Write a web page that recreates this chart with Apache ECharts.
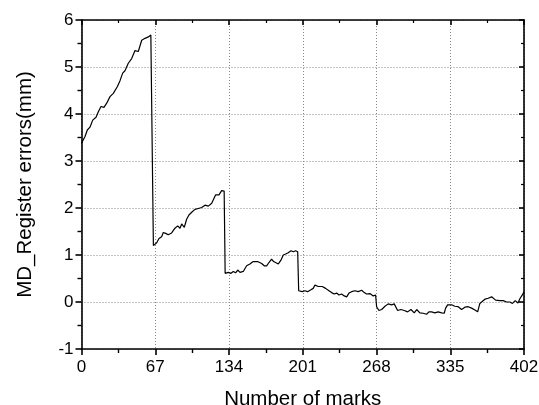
<!DOCTYPE html>
<html>
<head>
<meta charset="utf-8">
<script src="https://cdn.jsdelivr.net/npm/echarts@6/dist/echarts.min.js"></script>
<style>
html,body{margin:0;padding:0;background:#fff;}
#chart{width:539px;height:405px;}
</style>
</head>
<body>
<div id="chart"></div>
<script>
var xTicks = [0, 67, 134, 201, 268, 335, 402];
var yTicks = [-1, 0, 1, 2, 3, 4, 5, 6];
var markIndex = [
  0, 1.1, 3.2, 5.3, 7.7, 10.2, 13.2, 15.3, 17.7, 20.4, 22.9, 25.9, 28.9, 32.5, 35, 37.4, 39.5, 42.5, 45.6, 48.6, 51.6, 54.7, 57.7, 60.7, 63, 64.3,
  65.3, 66.3, 68.3, 70.4, 72.8, 74.3, 76.5, 78.8, 81.9, 84.9, 87.4, 89.5, 91, 93.4, 95.5, 97.6, 100.6, 103.1, 106.1, 109.2, 112.2, 115.2, 118.3, 119.7, 121.9, 123.7, 124.9, 127.3, 128.8, 129.6,
  130.5, 133.4, 135.8, 137.9, 140, 141.9, 144, 147, 150, 153, 156, 160, 163.7, 166, 168.2, 170.3, 172.7, 174.6, 176.4, 178.8, 181.2, 183.3, 185.5, 187.8, 190.3, 192.4, 194.5, 196.4,
  197.3, 198.5, 200.6, 203, 205.4, 208.4, 210.5, 212.1, 215.1, 218.7, 221.8, 224.8, 227.2, 229.6, 231.8, 233.9, 236.3, 238.7, 240.9, 243, 245.4, 248.4, 251.4, 254.5, 256.9, 259, 262, 265, 267.2,
  268.1, 270.2, 272.7, 275.7, 278.7, 281.7, 284.1, 287.2, 290.2, 293.2, 296.3, 299.3, 302.3, 304.5, 307.4, 310.4, 313.5, 315.6, 318, 321, 324, 327.2, 329.5, 330.8, 332.6, 336.2, 339.2, 342.2, 345.3, 348.3, 351.3, 354.4, 357.4, 359.9, 361.9, 364, 366.5, 369.5, 372.6, 374, 376.2, 378, 380.1, 383.1, 386.2, 389.2, 391.5, 394, 396.5, 398.5, 400.5, 402
];
var registerError = [
  3.38, 3.41, 3.52, 3.66, 3.72, 3.87, 3.93, 4.05, 4.16, 4.14, 4.23, 4.37, 4.44, 4.58, 4.71, 4.87, 4.92, 5.08, 5.18, 5.35, 5.33, 5.57, 5.61, 5.64, 5.68, 5.72,
  1.20, 1.22, 1.26, 1.35, 1.39, 1.48, 1.46, 1.43, 1.47, 1.57, 1.62, 1.57, 1.66, 1.59, 1.76, 1.85, 1.92, 1.97, 1.99, 2.01, 2.06, 2.04, 2.10, 2.10, 2.28, 2.30, 2.28, 2.37, 2.35, 2.36,
  0.61, 0.63, 0.61, 0.65, 0.62, 0.68, 0.63, 0.65, 0.77, 0.81, 0.86, 0.86, 0.82, 0.77, 0.77, 0.84, 0.91, 0.86, 0.86, 0.81, 0.89, 1.00, 1.02, 1.05, 1.09, 1.07, 1.09, 1.07,
  0.24, 0.24, 0.22, 0.24, 0.22, 0.26, 0.29, 0.36, 0.33, 0.33, 0.29, 0.24, 0.20, 0.17, 0.19, 0.15, 0.17, 0.13, 0.11, 0.19, 0.22, 0.24, 0.22, 0.25, 0.20, 0.17, 0.18, 0.13, 0.15,
  -0.10, -0.18, -0.16, -0.09, -0.04, -0.06, -0.04, -0.18, -0.16, -0.18, -0.21, -0.16, -0.23, -0.16, -0.23, -0.24, -0.26, -0.21, -0.21, -0.23, -0.21, -0.23, -0.24, -0.13, -0.06, -0.06, -0.09, -0.10, -0.16, -0.11, -0.10, -0.13, -0.17, -0.21, -0.03, 0.01, 0.06, 0.08, 0.11, 0.10, 0.04, 0.08, 0.03, 0.03, 0.00, 0.00, -0.03, 0.03, -0.02, 0.08, 0.15, 0.22
];
var xTitle = 'Number of marks';
var yTitle = 'MD_Register errors(mm)';

var seriesData = markIndex.map(function (x, i) { return [x, registerError[i]]; });
var font = 'Liberation Sans, Arial, sans-serif';
var lineStyle = { color: '#000', width: 1.6 };

var chart = echarts.init(document.getElementById('chart'), null, { renderer: 'canvas' });
chart.setOption({
  animation: false,
  backgroundColor: '#fff',
  grid: { left: 81.5, right: 15, top: 20, bottom: 56, containLabel: false, outerBoundsMode: 'none' },
  xAxis: [{
    type: 'value', min: xTicks[0], max: xTicks[xTicks.length - 1], interval: xTicks[1] - xTicks[0],
    position: 'bottom',
    name: xTitle, nameLocation: 'middle', nameGap: 40,
    nameTextStyle: { fontFamily: font, fontSize: 20.5, color: '#000' },
    axisLine: { show: true, onZero: false, lineStyle: lineStyle },
    axisTick: { show: true, inside: false, length: 6, lineStyle: lineStyle },
    minorTick: { show: true, splitNumber: 2, length: 4, lineStyle: { color: '#000', width: 1.4 } },
    axisLabel: { fontFamily: font, fontSize: 17, color: '#000', margin: 10 },
    splitLine: { show: true, lineStyle: { color: '#888', type: [1, 2], width: 1 } }
  }, {
    type: 'value', min: xTicks[0], max: xTicks[xTicks.length - 1], interval: xTicks[1] - xTicks[0],
    position: 'top',
    axisLine: { show: true, onZero: false, lineStyle: lineStyle },
    axisTick: { show: true, inside: true, length: 5, lineStyle: lineStyle },
    minorTick: { show: true, splitNumber: 2, length: 3, lineStyle: { color: '#000', width: 1.2 } },
    axisLabel: { show: false },
    splitLine: { show: false }
  }],
  yAxis: [{
    type: 'value', min: yTicks[0], max: yTicks[yTicks.length - 1], interval: 1,
    position: 'left',
    name: yTitle, nameLocation: 'middle', nameGap: 46, nameRotate: 90,
    nameTextStyle: { fontFamily: font, fontSize: 20.5, color: '#000' },
    axisLine: { show: true, onZero: false, lineStyle: lineStyle },
    axisTick: { show: true, inside: false, length: 6, lineStyle: lineStyle },
    minorTick: { show: true, splitNumber: 2, length: 4, lineStyle: { color: '#000', width: 1.4 } },
    axisLabel: { fontFamily: font, fontSize: 17, color: '#000', margin: 8 },
    splitLine: { show: true, lineStyle: { color: '#888', type: [1, 2], width: 1 } }
  }, {
    type: 'value', min: yTicks[0], max: yTicks[yTicks.length - 1], interval: 1,
    position: 'right',
    axisLine: { show: true, onZero: false, lineStyle: lineStyle },
    axisTick: { show: true, inside: true, length: 5, lineStyle: lineStyle },
    minorTick: { show: true, splitNumber: 2, length: 3, lineStyle: { color: '#000', width: 1.2 } },
    axisLabel: { show: false },
    splitLine: { show: false }
  }],
  series: [{
    type: 'line',
    data: seriesData,
    showSymbol: false,
    symbol: 'none',
    lineStyle: { color: '#000', width: 1.2 },
    xAxisIndex: 0, yAxisIndex: 0
  }]
});
</script>
</body>
</html>
